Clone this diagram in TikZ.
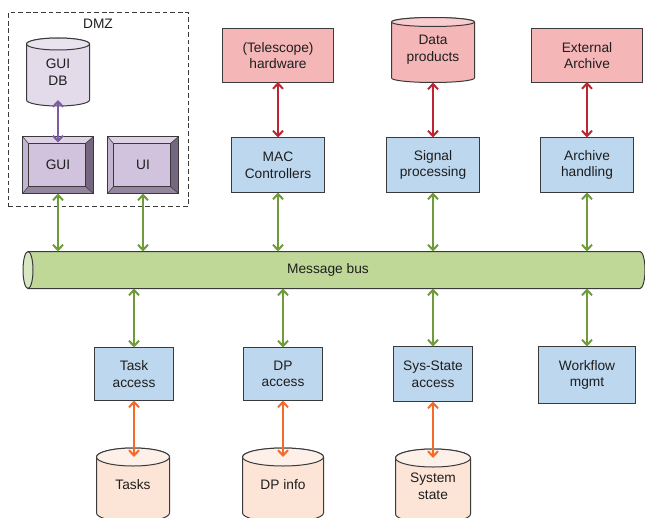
\documentclass[tikz,border=0pt]{standalone}
\usepackage{fontspec}
\setmainfont{Liberation Sans}
\usetikzlibrary{arrows.meta,backgrounds,calc}
\definecolor{bluef}{HTML}{BDD7EE}
\definecolor{redf}{HTML}{F5B6B8}
\definecolor{redtop}{HTML}{F9CDCF}
\definecolor{peach}{HTML}{FCE4D6}
\definecolor{peachtop}{HTML}{FDF0E8}
\definecolor{lav}{HTML}{E3DAEA}
\definecolor{lavtop}{HTML}{E9E2EF}
\definecolor{busf}{HTML}{BFD898}
\definecolor{busend}{HTML}{D6E7C2}
\definecolor{guiface}{HTML}{D1C3DE}
\definecolor{bevtop}{HTML}{DDD2E6}
\definecolor{bevleft}{HTML}{C3B4D0}
\definecolor{bevright}{HTML}{75677F}
\definecolor{bevbot}{HTML}{9586A0}
\definecolor{boxline}{HTML}{3A3A3A}
\definecolor{txt}{HTML}{1E1E1E}
\definecolor{greenar}{HTML}{6F9B3D}
\definecolor{redar}{HTML}{BC2634}
\definecolor{orangear}{HTML}{F26B2B}
\definecolor{purplear}{HTML}{7E5CA0}
\newcommand\fs{\fontsize{10.3}{12.5}\selectfont}
\newcommand\vcyl[4]{%
  \filldraw[fill=#2, draw=boxline, line width=0.75pt] let \p1=(#1.north west), \p2=(#1.south east) in
    (\x1,\y1) -- (\x1,\y2) arc[start angle=180, end angle=360, x radius={(\x2-\x1)/2}, y radius={#4*0.75pt}]
    -- (\x2,\y1) arc[start angle=0, end angle=180, x radius={(\x2-\x1)/2}, y radius={#4*0.75pt}] -- cycle;
  \filldraw[fill=#3, draw=boxline, line width=0.75pt] let \p1=(#1.north west), \p2=(#1.north east) in
    (\x1,\y1) arc[start angle=180, end angle=-180, x radius={(\x2-\x1)/2}, y radius={#4*0.75pt}];
}
\newcommand\bevel[1]{%
  \fill[bevtop] (#1.north west) -- (#1.north east) -- ([shift={(-8,7)}]#1.north east) -- ([shift={(6,7)}]#1.north west) -- cycle;
  \fill[bevleft] (#1.north west) -- ([shift={(6,7)}]#1.north west) -- ([shift={(6,-7)}]#1.south west) -- (#1.south west) -- cycle;
  \fill[bevright] (#1.north east) -- ([shift={(-8,7)}]#1.north east) -- ([shift={(-8,-7)}]#1.south east) -- (#1.south east) -- cycle;
  \fill[bevbot] (#1.south west) -- ([shift={(6,-7)}]#1.south west) -- ([shift={(-8,-7)}]#1.south east) -- (#1.south east) -- cycle;
  \draw[boxline, line width=0.4pt] (#1.north west) -- ([shift={(6,7)}]#1.north west)
    (#1.north east) -- ([shift={(-8,7)}]#1.north east)
    (#1.south west) -- ([shift={(6,-7)}]#1.south west)
    (#1.south east) -- ([shift={(-8,-7)}]#1.south east)
    ([shift={(6,7)}]#1.north west) rectangle ([shift={(-8,-7)}]#1.south east);
  \draw[boxline, line width=0.8pt] (#1.north west) rectangle (#1.south east);
}
\tikzset{
  sz/.style 2 args={minimum width=#1*0.75pt, minimum height=#2*0.75pt},
  txtnode/.style={inner sep=0pt, outer sep=0pt, align=center, font=\fs, text=txt},
  box/.style={txtnode, draw=boxline, line width=0.75pt},
  proc/.style={box, fill=bluef},
  ext/.style={box, fill=redf},
  face/.style={txtnode, fill=guiface},
  dmzbox/.style={draw=boxline, line width=0.75pt, dash pattern=on 3.5pt off 2.2pt, inner sep=0pt, outer sep=0pt},
  link/.style={line width=1.5pt, {Straight Barb[length=4pt,width=7.5pt]}-{Straight Barb[length=4pt,width=7.5pt]}},
  glink/.style={link, draw=greenar},
  rlink/.style={link, draw=redar},
  olink/.style={link, draw=orangear},
  plink/.style={link, draw=purplear},
}
\begin{document}
\begin{tikzpicture}[x=0.75pt, y=-0.75pt]
\useasboundingbox (0,0) rectangle (645,517);
% DMZ
\node[dmzbox, sz={180}{194}] (dmz) at (98.5,109.5) {};
\node[txtnode] (dmzlabel) at (98,24) {DMZ};
% cylinder text nodes
\node[txtnode, sz={63}{56}] (guidb) at (58,72) {GUI\\DB};
\node[txtnode, sz={83}{56}] (dataprod) at (433,50) {Data\\products};
\node[txtnode, sz={73}{56}] (tasks) at (133,485) {Tasks};
\node[txtnode, sz={81}{56}] (dpinfo) at (283,485) {DP info};
\node[txtnode, sz={75}{56}] (sysstate) at (433,486) {System\\state};
\node[txtnode, sz={612}{37}] (bus) at (334,270) {\hspace*{-9pt}Message bus};
\begin{scope}[on background layer]
  \vcyl{guidb}{lav}{lavtop}{6}
  \vcyl{dataprod}{redf}{redtop}{4.5}
  \vcyl{tasks}{peach}{peachtop}{9}
  \vcyl{dpinfo}{peach}{peachtop}{9}
  \vcyl{sysstate}{peach}{peachtop}{9}
  \filldraw[fill=busf, draw=boxline, line width=0.75pt] let \p1=(bus.north west), \p2=(bus.south east) in
    (\x1,\y1) -- (\x2,\y1) arc[start angle=90, end angle=-90, x radius=3.75pt, y radius={(\y1-\y2)/2}] -- (\x1,\y2) -- cycle;
  \filldraw[fill=busend, draw=boxline, line width=0.75pt] let \p1=(bus.north west), \p2=(bus.south east) in
    (\x1,\y1) arc[start angle=90, end angle=450, x radius=3.75pt, y radius={(\y1-\y2)/2}];
\end{scope}
% GUI / UI bevel boxes
\node[face, sz={71}{57}] (gui) at (58,165) {GUI};
\node[face, sz={71}{57}] (ui) at (143,165) {UI};
\bevel{gui}
\bevel{ui}
% rectangles
\node[ext, sz={111}{53}] (hw) at (278,55.5) {(Telescope)\\hardware};
\node[ext, sz={111}{53}] (extarch) at (587,55.5) {External\\Archive};
\node[proc, sz={93}{55}] (mac) at (278,165) {MAC\\Controllers};
\node[proc, sz={93}{55}] (sig) at (433,165) {Signal\\processing};
\node[proc, sz={93}{55}] (archh) at (587,165) {Archive\\handling};
\node[proc, sz={79}{53}] (taskacc) at (134,374) {Task\\access};
\node[proc, sz={79}{53}] (dpacc) at (283,374) {DP\\access};
\node[proc, sz={79}{55}] (ssacc) at (433,374) {Sys-State\\access};
\node[proc, sz={97}{57}] (wf) at (587,375) {Workflow\\mgmt};
% connectors
\draw[plink, shorten >=-4.5pt] (guidb.south) -- (gui.north);
\draw[rlink] (hw.south) -- (mac.north);
\draw[rlink] ([yshift=-3.4pt]dataprod.south) -- (dataprod.south |- sig.north);
\draw[rlink] (extarch.south) -- (extarch.south |- archh.north);
\foreach \n in {gui,ui,mac,sig,archh}
  \draw[glink] (\n.south) -- (\n.south |- bus.north);
\foreach \n in {taskacc,dpacc,ssacc,wf}
  \draw[glink] (\n.north |- bus.south) -- (\n.north);
\draw[olink] (taskacc.south) -- (taskacc.south |- tasks.north);
\draw[olink] (dpacc.south) -- (dpacc.south |- dpinfo.north);
\draw[olink] (ssacc.south) -- (ssacc.south |- sysstate.north);
\end{tikzpicture}
\end{document}
